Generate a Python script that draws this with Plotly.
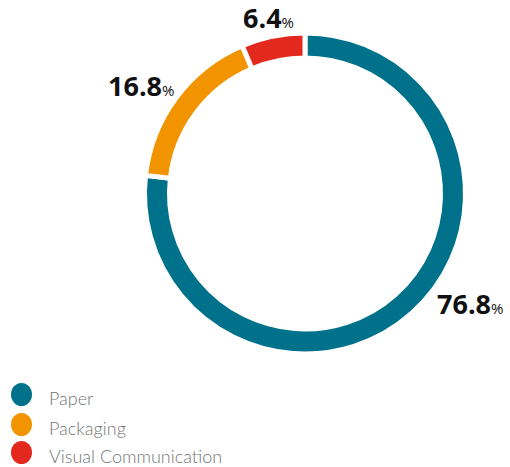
import plotly.graph_objects as go

# Share of revenue by business segment (%)
segments = ["Paper", "Packaging", "Visual Communication"]
shares = [76.8, 16.8, 6.4]
colors = ["#00718B", "#F29400", "#E3281D"]

W, H = 510, 467

# Ring geometry in pixels
cx, cy = 305, 193.5
line_w = 5
R = 158 + line_w / 2
r_in = 138 - line_w / 2

fig = go.Figure(
    go.Pie(
        labels=segments,
        values=shares,
        sort=False,
        direction="clockwise",
        rotation=0,
        hole=r_in / R,
        marker=dict(colors=colors, line=dict(color="white", width=line_w)),
        textinfo="none",
        hoverinfo="label+percent",
        showlegend=False,
        domain=dict(
            x=[(cx - R) / W, (cx + R) / W],
            y=[(H - cy - R) / H, (H - cy + R) / H],
        ),
    )
)

# Value labels beside each segment (pixel anchor: left edge, vertical middle)
label_pos = [(435, 303), (106, 85), (241, 18)]
annotations = []
for val, (px, py) in zip(shares, label_pos):
    annotations.append(
        dict(
            x=px / W, y=1 - py / H, xref="paper", yref="paper",
            xanchor="left", yanchor="middle", showarrow=False,
            text=f"<b>{val:.1f}</b><span style='font-size:15px'>%</span>",
            font=dict(family="Open Sans", size=27, color="#111111"),
        )
    )

# Custom legend with round markers
shapes = []
legend_y = [395, 425, 453]
for name, col, ly in zip(segments, colors, legend_y):
    shapes.append(
        dict(
            type="circle", xref="paper", yref="paper",
            x0=11 / W, x1=32 / W, y0=1 - (ly + 11) / H, y1=1 - (ly - 12) / H,
            fillcolor=col, line=dict(width=0),
        )
    )
    annotations.append(
        dict(
            x=47 / W, y=1 - (ly + 3) / H, xref="paper", yref="paper",
            xanchor="left", yanchor="middle", showarrow=False,
            text=name,
            font=dict(family="Lato", size=18, color="#747474", weight=300),
        )
    )

fig.update_layout(
    width=W, height=H,
    margin=dict(l=0, r=0, t=0, b=0),
    paper_bgcolor="white", plot_bgcolor="white",
    annotations=annotations, shapes=shapes,
)

fig.write_html("out.html")
